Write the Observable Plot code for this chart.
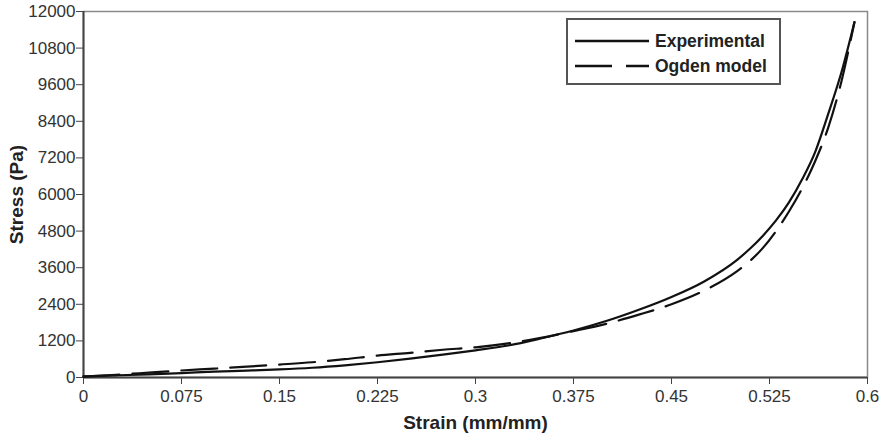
<!DOCTYPE html>
<html>
<head>
<meta charset="utf-8">
<script src="https://cdn.jsdelivr.net/npm/d3@7"></script>
<script src="https://cdn.jsdelivr.net/npm/@observablehq/plot@0.6"></script>
<style>
  html, body { margin: 0; padding: 0; background: #fff; }
  #wrap { position: relative; width: 884px; height: 438px; font-family: "Liberation Sans", Arial, sans-serif; }
  #wrap svg text { fill: #333; font-family: "Liberation Sans", Arial, sans-serif; }
  #wrap svg g[aria-label$="tick label"] text { font-size: 17px !important; }
  #wrap svg g[aria-label="x-axis label"] text, #wrap svg g[aria-label="y-axis label"] text { font-weight: bold; font-size: 19px; fill: #222; }
  #legend { position: absolute; left: 566px; top: 18px; width: 215px; height: 67px; border: 2px solid #555; background: #fff; box-sizing: border-box; }
  #legend .row { position: absolute; left: 7px; height: 20px; display: flex; align-items: center; }
  #legend .row span { font-weight: bold; font-size: 17.5px; color: #222; margin-left: 6px; font-family: "Liberation Sans", Arial, sans-serif; }
</style>
</head>
<body>
<div id="wrap"></div>
<script>
const strain = [0, 0.025, 0.05, 0.075, 0.1, 0.125, 0.15, 0.175, 0.2, 0.225, 0.25, 0.275, 0.3, 0.325, 0.35, 0.375, 0.4, 0.425, 0.45, 0.475, 0.5, 0.51, 0.52, 0.53, 0.54, 0.55, 0.56, 0.57, 0.58, 0.59];
const experimental = [40, 70, 105, 145, 190, 225, 265, 320, 400, 500, 620, 750, 890, 1050, 1280, 1540, 1850, 2220, 2640, 3150, 3850, 4220, 4650, 5150, 5750, 6500, 7400, 8650, 10000, 11650];
const ogden = [30, 90, 160, 230, 290, 355, 425, 500, 600, 720, 810, 910, 990, 1120, 1300, 1520, 1760, 2060, 2400, 2850, 3480, 3820, 4250, 4800, 5450, 6200, 7100, 8200, 9700, 11650];
const xTicks = [0, 0.075, 0.15, 0.225, 0.3, 0.375, 0.45, 0.525, 0.6];
const xTickLabels = ["0", "0.075", "0.15", "0.225", "0.3", "0.375", "0.45", "0.525", "0.6"];
const yTicks = [0, 1200, 2400, 3600, 4800, 6000, 7200, 8400, 9600, 10800, 12000];
const seriesNames = ["Experimental", "Ogden model"];

const expData = strain.map((s, i) => ({strain: s, stress: experimental[i]}));
const ogdData = strain.map((s, i) => ({strain: s, stress: ogden[i]}));

const chart = Plot.plot({
  width: 884,
  height: 438,
  marginLeft: 83,
  marginRight: 17,
  marginTop: 11,
  marginBottom: 61,
  style: {fontSize: "17px", fontFamily: "Liberation Sans, Arial, sans-serif", background: "#fff"},
  x: {domain: [0, 0.6]},
  y: {domain: [0, 12000]},
  marks: [
    Plot.frame({stroke: "#8a8a8a", strokeWidth: 1.5}),
    Plot.axisX({ticks: xTicks, tickFormat: (d, i) => xTickLabels[i], tickSize: 7, tickPadding: 5, stroke: "#444", fontSize: 17,
      label: "Strain (mm/mm)", labelAnchor: "center", labelOffset: 51, labelArrow: "none"}),
    Plot.axisY({ticks: yTicks, tickFormat: d => String(d), tickSize: 7, tickPadding: 1, stroke: "#444", fontSize: 17,
      label: "Stress (Pa)", labelAnchor: "center", labelOffset: 74, labelArrow: "none"}),
    Plot.ruleX([0], {stroke: "#444", strokeWidth: 2}),
    Plot.ruleY([0], {stroke: "#444", strokeWidth: 2}),
    Plot.line(ogdData, {x: "strain", y: "stress", stroke: "#111", strokeWidth: 2.2, strokeDasharray: "36,13", curve: "monotone-x"}),
    Plot.line(expData, {x: "strain", y: "stress", stroke: "#111", strokeWidth: 2.2, curve: "monotone-x"})
  ]
});
document.getElementById("wrap").appendChild(chart);

const legend = document.createElement("div");
legend.id = "legend";
legend.innerHTML = `
  <div class="row" style="top:11px"><svg width="74" height="6"><line x1="0" y1="3" x2="74" y2="3" stroke="#111" stroke-width="2.4"/></svg><span>${seriesNames[0]}</span></div>
  <div class="row" style="top:36px"><svg width="74" height="6"><line x1="0" y1="3" x2="74" y2="3" stroke="#111" stroke-width="2.4" stroke-dasharray="37,14"/></svg><span>${seriesNames[1]}</span></div>`;
document.getElementById("wrap").appendChild(legend);
</script>
</body>
</html>
